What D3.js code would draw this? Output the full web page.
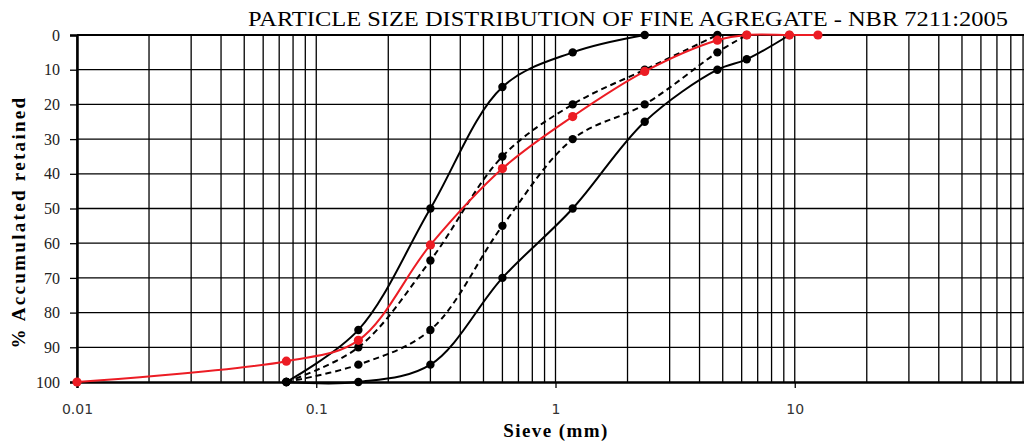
<!DOCTYPE html>
<html>
<head>
<meta charset="utf-8">
<script src="https://cdn.jsdelivr.net/npm/d3@7"></script>
<style>
  body { margin: 0; background: #fff; }
  svg { display: block; }
</style>
</head>
<body>
<div id="chart"></div>
<script>
// sieve openings (mm) used by NBR 7211
let sieves = [0.075, 0.15, 0.3, 0.6, 1.18, 2.36, 4.75, 6.3, 9.5]
let redSieves = [0.01, 0.075, 0.15, 0.3, 0.6, 1.18, 2.36, 4.75, 6.3, 9.5, 12.5]

// % accumulated retained, null where the limit curve has no point
let usableLower = [100, 85, 50, 15, 5, 0, null, null, null]
let optimalLower = [100, 90, 65, 35, 20, 10, 0, null, null]
let optimalUpper = [100, 95, 85, 55, 30, 20, 5, 0, null]
let usableUpper = [100, 100, 95, 70, 50, 25, 10, 7, 0]
let sample = [100, 94, 88, 60.5, 38.5, 23.5, 10.5, 1.5, 0, 0, 0]

let xTicks = [0.01, 0.1, 1, 10]
let yTicks = [0, 10, 20, 30, 40, 50, 60, 70, 80, 90, 100]

var width = 1024
var height = 441
var mLeft = 77
var mTop = 35
var mBottom = 382

var x = d3.scaleLog()
  .domain([0.01, 100])
  .range([mLeft, 1034])

var y = d3.scaleLinear()
  .domain([0, 100])
  .range([mTop, mBottom])

var svg = d3.select('#chart')
  .append('svg')
  .attr('width', width)
  .attr('height', height)

// log grid: 1..9 in every decade
var gridX = []
for (let d = -2; d < 2; d++) {
  for (let k = 1; k < 10; k++) {
    gridX.push(k * Math.pow(10, d))
  }
}

svg.append('g')
  .selectAll('line')
  .data(gridX)
  .enter()
  .append('line')
  .attr('x1', d => x(d))
  .attr('x2', d => x(d))
  .attr('y1', mTop)
  .attr('y2', mBottom)
  .attr('stroke', '#000')
  .attr('stroke-width', 1.3)

svg.append('g')
  .selectAll('line')
  .data(yTicks.slice(1, -1))
  .enter()
  .append('line')
  .attr('x1', mLeft)
  .attr('x2', width)
  .attr('y1', d => y(d))
  .attr('y2', d => y(d))
  .attr('stroke', '#000')
  .attr('stroke-width', 1.3)

// top border
svg.append('line')
  .attr('x1', mLeft)
  .attr('x2', width)
  .attr('y1', y(0))
  .attr('y2', y(0))
  .attr('stroke', '#000')
  .attr('stroke-width', 2.2)

// y axis
var yAxis = svg.append('g')
  .attr('transform', 'translate(' + mLeft + ',0)')
  .call(d3.axisLeft(y).tickValues(yTicks).tickSize(7).tickPadding(10))
yAxis.select('.domain').attr('stroke-width', 2.5)
yAxis.selectAll('.tick line').attr('stroke-width', 1.3)
yAxis.selectAll('text')
  .attr('font-family', 'Liberation Serif, serif')
  .attr('font-size', 16)
  .attr('fill', '#222')

// x axis
var xAxis = svg.append('g')
  .attr('transform', 'translate(0,' + mBottom + ')')
  .call(d3.axisBottom(x).tickValues(xTicks).tickFormat(d => String(d)).tickSize(6).tickPadding(16))
xAxis.select('.domain').attr('stroke-width', 2.5)
xAxis.selectAll('.tick line').attr('stroke-width', 1.3)
xAxis.selectAll('text')
  .attr('font-family', 'DejaVu Sans, sans-serif')
  .attr('font-size', 14)
  .attr('fill', '#333')

// curves
var line = d3.line()
  .x(d => x(d[0]))
  .y(d => y(d[1]))
  .curve(d3.curveCatmullRom.alpha(0.5))

var limits = [
  { values: usableLower, dash: null },
  { values: optimalLower, dash: '6,4' },
  { values: optimalUpper, dash: '6,4' },
  { values: usableUpper, dash: null }
]

limits.forEach(function (lim) {
  var pts = sieves.map((s, i) => [s, lim.values[i]]).filter(p => p[1] !== null)
  svg.append('path')
    .datum(pts)
    .attr('d', line)
    .attr('fill', 'none')
    .attr('stroke', '#000')
    .attr('stroke-width', 2)
    .attr('stroke-dasharray', lim.dash)
  svg.append('g')
    .selectAll('circle')
    .data(pts)
    .enter()
    .append('circle')
    .attr('cx', d => x(d[0]))
    .attr('cy', d => y(d[1]))
    .attr('r', 4.2)
    .attr('fill', '#000')
})

var redPts = redSieves.map((s, i) => [s, sample[i]])
svg.append('path')
  .datum(redPts)
  .attr('d', line)
  .attr('fill', 'none')
  .attr('stroke', '#ec1c24')
  .attr('stroke-width', 2)
svg.append('g')
  .selectAll('circle')
  .data(redPts)
  .enter()
  .append('circle')
  .attr('cx', d => x(d[0]))
  .attr('cy', d => y(d[1]))
  .attr('r', 4.6)
  .attr('fill', '#ec1c24')

// titles
svg.append('text')
  .attr('x', 248)
  .attr('y', 26)
  .attr('font-family', 'Liberation Serif, serif')
  .attr('font-size', 22)
  .attr('textLength', 760)
  .attr('lengthAdjust', 'spacingAndGlyphs')
  .text('PARTICLE SIZE DISTRIBUTION OF FINE AGREGATE - NBR 7211:2005')

svg.append('text')
  .attr('x', 556)
  .attr('y', 437)
  .attr('text-anchor', 'middle')
  .attr('font-family', 'Liberation Serif, serif')
  .attr('font-weight', 'bold')
  .attr('font-size', 19)
  .attr('letter-spacing', 1.4)
  .text('Sieve (mm)')

svg.append('text')
  .attr('transform', 'translate(25,222) rotate(-90)')
  .attr('text-anchor', 'middle')
  .attr('font-family', 'Liberation Serif, serif')
  .attr('font-weight', 'bold')
  .attr('font-size', 19)
  .attr('letter-spacing', 2.3)
  .text('% Accumulated retained')
</script>
</body>
</html>
